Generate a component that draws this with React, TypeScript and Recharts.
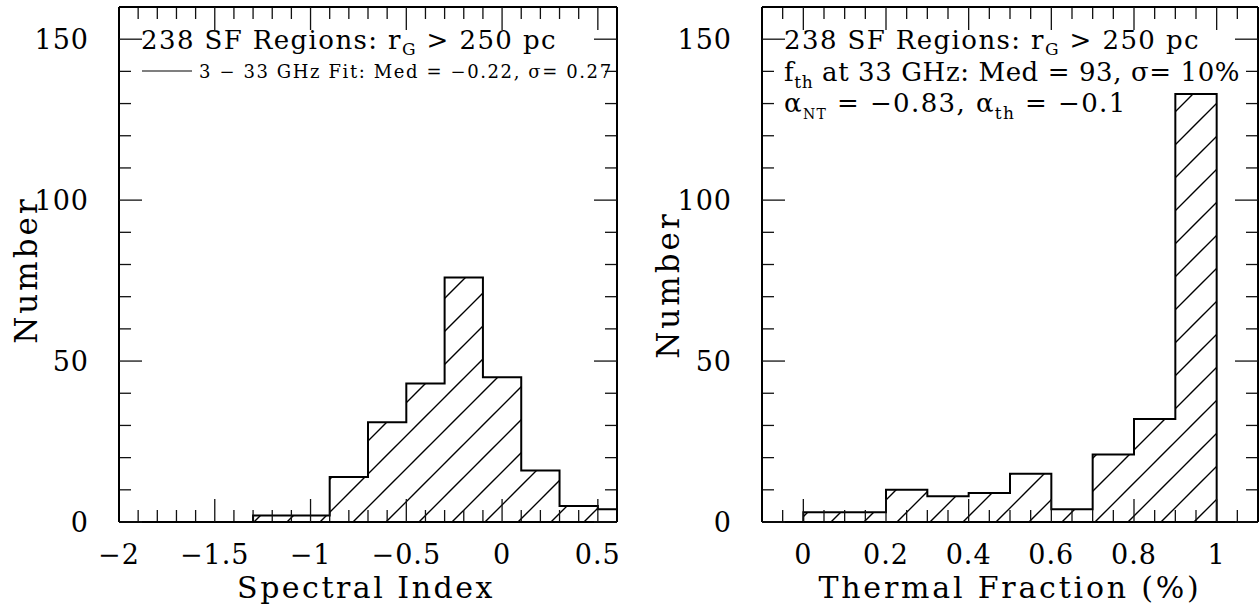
import React from "react";
import { ComposedChart, Area, XAxis, YAxis } from "recharts";

// histogram bins: edges and counts
const spectralEdges = [-1.3, -1.1, -0.9, -0.7, -0.5, -0.3, -0.1, 0.1, 0.3, 0.5, 0.7];
const spectralCounts = [2, 2, 14, 31, 43, 76, 45, 16, 5, 4];

const thermalEdges = [0, 0.1, 0.2, 0.3, 0.4, 0.5, 0.6, 0.7, 0.8, 0.9, 1.0];
const thermalCounts = [3, 3, 10, 8, 9, 15, 4, 21, 32, 133];

// ticks
const spectralMajor = [-2, -1.5, -1, -0.5, 0, 0.5];
const spectralMinor = [
  -1.9, -1.8, -1.7, -1.6, -1.4, -1.3, -1.2, -1.1, -0.9, -0.8, -0.7, -0.6,
  -0.4, -0.3, -0.2, -0.1, 0.1, 0.2, 0.3, 0.4,
];
const thermalMajor = [0, 0.2, 0.4, 0.6, 0.8, 1];
const thermalMinor = [
  -0.05, 0.05, 0.1, 0.15, 0.25, 0.3, 0.35, 0.45, 0.5, 0.55, 0.65, 0.7, 0.75,
  0.85, 0.9, 0.95, 1.05,
];
const countMajor = [0, 50, 100, 150];
const countMinor = [10, 20, 30, 40, 60, 70, 80, 90, 110, 120, 130, 140];

const FONT = "'DejaVu Serif', serif";
const H = 609;

const fmt = (v: number) => (v < 0 ? "\u2212" + Math.abs(v) : String(v));

// histogram outline as a stepAfter series
const toSteps = (edges: number[], counts: number[]) => {
  const pts = [{ x: edges[0], y: 0 }];
  counts.forEach((c, i) => pts.push({ x: edges[i], y: c }));
  const last = counts[counts.length - 1];
  pts.push({ x: edges[edges.length - 1], y: last });
  pts.push({ x: edges[edges.length - 1], y: 0 });
  return pts;
};

const noLabel = () => <g />;

const XLabel = (props: any) => (
  <text
    x={props.x}
    y={props.y}
    dy={20}
    textAnchor="middle"
    fontSize={27}
    letterSpacing={1}
    fontFamily={FONT}
    fill="#000"
  >
    {fmt(props.payload.value)}
  </text>
);

const YLabel = (props: any) => (
  <text
    x={props.x}
    y={props.y}
    dy={10}
    textAnchor="end"
    fontSize={27}
    letterSpacing={1}
    fontFamily={FONT}
    fill="#000"
  >
    {fmt(props.payload.value)}
  </text>
);

const tickStyle = { stroke: "#111", strokeWidth: 1.3 };
const frameStyle = { stroke: "#000", strokeWidth: 2 };

interface PanelProps {
  width: number;
  right: number;
  yAxisWidth: number;
  edges: number[];
  counts: number[];
  xDomain: [number, number];
  xMajor: number[];
  xMinor: number[];
  hatchId: string;
  hatchOffset: number;
}

const HistPanel = (p: PanelProps) => {
  const data = toSteps(p.edges, p.counts);
  const xCommon = {
    dataKey: "x",
    type: "number" as const,
    domain: p.xDomain,
    allowDataOverflow: true,
    interval: 0 as const,
  };
  const yCommon = {
    type: "number" as const,
    domain: [0, 160],
    allowDataOverflow: true,
    interval: 0 as const,
  };
  return (
    <ComposedChart
      width={p.width}
      height={H}
      data={data}
      margin={{ top: 7, right: p.right, bottom: 0, left: 0 }}
    >
      <defs>
        <pattern
          id={p.hatchId}
          patternUnits="userSpaceOnUse"
          width={33}
          height={33}
          x={p.hatchOffset}
          y={0}
        >
          <path
            d="M-2,2 L2,-2 M0,33 L33,0 M31,35 L35,31"
            stroke="#000"
            strokeWidth={1.4}
          />
        </pattern>
      </defs>

      {/* frame and inward ticks (mirror axes, 1px thick so they render) */}
      <XAxis xAxisId="majB" {...xCommon} ticks={p.xMajor} orientation="bottom" mirror height={1} tickSize={23} tick={noLabel} tickLine={tickStyle} axisLine={frameStyle} />
      <XAxis xAxisId="minB" {...xCommon} ticks={p.xMinor} orientation="bottom" mirror height={1} tickSize={11} tick={noLabel} tickLine={tickStyle} axisLine={false} />
      <XAxis xAxisId="majT" {...xCommon} ticks={p.xMajor} orientation="top" mirror height={1} tickSize={23} tick={noLabel} tickLine={tickStyle} axisLine={frameStyle} />
      <XAxis xAxisId="minT" {...xCommon} ticks={p.xMinor} orientation="top" mirror height={1} tickSize={11} tick={noLabel} tickLine={tickStyle} axisLine={false} />
      <XAxis xAxisId="lab" {...xCommon} ticks={p.xMajor} orientation="bottom" height={87} tickSize={0} tickMargin={22} tick={XLabel} tickLine={false} axisLine={false} />

      <YAxis yAxisId="majL" {...yCommon} ticks={countMajor} orientation="left" mirror width={1} tickSize={23} tick={noLabel} tickLine={tickStyle} axisLine={frameStyle} />
      <YAxis yAxisId="minL" {...yCommon} ticks={countMinor} orientation="left" mirror width={1} tickSize={11} tick={noLabel} tickLine={tickStyle} axisLine={false} />
      <YAxis yAxisId="majR" {...yCommon} ticks={countMajor} orientation="right" mirror width={1} tickSize={23} tick={noLabel} tickLine={tickStyle} axisLine={frameStyle} />
      <YAxis yAxisId="minR" {...yCommon} ticks={countMinor} orientation="right" mirror width={1} tickSize={11} tick={noLabel} tickLine={tickStyle} axisLine={false} />
      <YAxis yAxisId="lab" {...yCommon} ticks={countMajor} orientation="left" width={p.yAxisWidth} tickSize={0} tickMargin={30} tick={YLabel} tickLine={false} axisLine={false} />

      <Area
        xAxisId="lab"
        yAxisId="lab"
        dataKey="y"
        type="stepAfter"
        stroke="#000"
        strokeWidth={2}
        fill={`url(#${p.hatchId})`}
        fillOpacity={1}
        dot={false}
        activeDot={false}
        isAnimationActive={false}
      />
    </ComposedChart>
  );
};

const sub = { fontSize: 17 };

const App = () => (
  <div
    style={{
      position: "absolute",
      left: 0,
      top: 0,
      width: 1259,
      height: H,
      background: "#fff",
      fontFamily: FONT,
    }}
  >
    <div style={{ position: "absolute", left: 0, top: 0 }}>
      <HistPanel
        width={630}
        right={13}
        yAxisWidth={119}
        edges={spectralEdges}
        counts={spectralCounts}
        xDomain={[-2, 0.6]}
        xMajor={spectralMajor}
        xMinor={spectralMinor}
        hatchId="hatchL"
        hatchOffset={17}
      />
    </div>
    <div style={{ position: "absolute", left: 630, top: 0 }}>
      <HistPanel
        width={629}
        right={1}
        yAxisWidth={132}
        edges={thermalEdges}
        counts={thermalCounts}
        xDomain={[-0.1, 1.1]}
        xMajor={thermalMajor}
        xMinor={thermalMinor}
        hatchId="hatchR"
        hatchOffset={30}
      />
    </div>

    {/* annotations and axis titles */}
    <svg
      width={1259}
      height={H}
      style={{ position: "absolute", left: 0, top: 0, pointerEvents: "none" }}
      fontFamily={FONT}
      fill="#000"
    >
      {/* left panel */}
      <text x={141} y={49} fontSize={26} letterSpacing={1.4}>
        238 SF Regions: r<tspan dy={6} {...sub}>G</tspan>
        <tspan dy={-6}> &gt; 250 pc</tspan>
      </text>
      <line x1={142} y1={71} x2={192} y2={71} stroke="#000" strokeWidth={1.2} />
      <text x={199} y={78} fontSize={18} letterSpacing={1.6}>
        3 {"\u2212"} 33 GHz Fit: Med = {"\u2212"}0.22, σ= 0.27
      </text>
      <text x={366} y={598} fontSize={30} letterSpacing={2.5} textAnchor="middle">
        Spectral Index
      </text>
      <text
        x={37}
        y={270}
        fontSize={31}
        letterSpacing={3}
        textAnchor="middle"
        transform="rotate(-90 37 270)"
      >
        Number
      </text>

      {/* right panel */}
      <text x={784} y={49} fontSize={26} letterSpacing={1.4}>
        238 SF Regions: r<tspan dy={6} {...sub}>G</tspan>
        <tspan dy={-6}> &gt; 250 pc</tspan>
      </text>
      <text x={784} y={81} fontSize={26} letterSpacing={0.6}>
        f<tspan dy={7} {...sub}>th</tspan>
        <tspan dy={-7}> at 33 GHz: Med = 93, σ= 10%</tspan>
      </text>
      <text x={784} y={112} fontSize={26} letterSpacing={1.4}>
        α<tspan dy={7} fontSize={14}>NT</tspan>
        <tspan dy={-7}> = {"\u2212"}0.83, α</tspan>
        <tspan dy={7} {...sub}>th</tspan>
        <tspan dy={-7}> = {"\u2212"}0.1</tspan>
      </text>
      <text x={1010} y={598} fontSize={30} letterSpacing={2.8} textAnchor="middle">
        Thermal Fraction (%)
      </text>
      <text
        x={679}
        y={285}
        fontSize={31}
        letterSpacing={3}
        textAnchor="middle"
        transform="rotate(-90 679 285)"
      >
        Number
      </text>
    </svg>
  </div>
);

export default App;
